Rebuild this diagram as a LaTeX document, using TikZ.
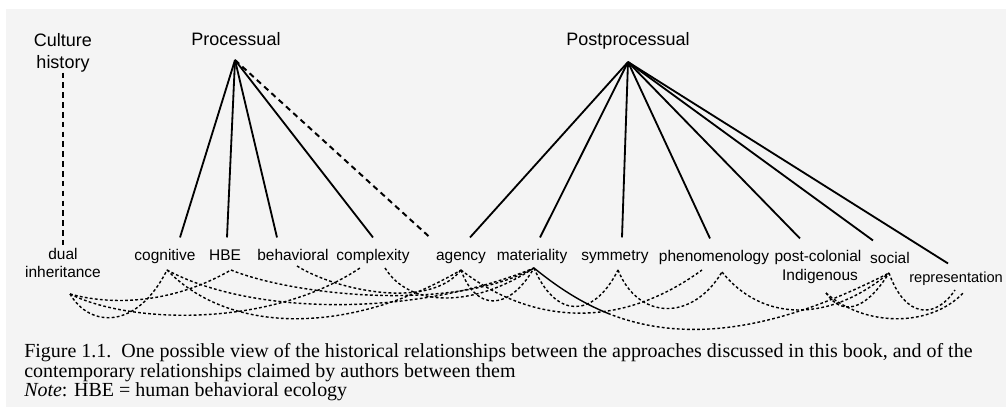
\documentclass[tikz,border=0pt]{standalone}
\usepackage{fontspec}
\setmainfont{Liberation Serif}
\setsansfont{Liberation Sans}
\usetikzlibrary{calc}
\definecolor{fond}{RGB}{244,244,244}
\tikzset{
  titre/.style={font=\sffamily\fontsize{12.8}{15.5}\selectfont, inner sep=0pt, align=center},
  etiq/.style={font=\sffamily\fontsize{11}{13}\selectfont, inner sep=0pt, anchor=base, text height=8pt, text depth=2.5pt},
  trait/.style={line width=1.3pt},
  tirets/.style={line width=1.4pt, dash pattern=on 4pt off 3pt},
  lien/.style={line width=1pt, dash pattern=on 2pt off 1.6pt},
  legende/.style={font=\fontsize{14.2}{16}\selectfont, anchor=base west, inner sep=0pt}
}

\begin{document}
\begin{tikzpicture}[x=0.025cm, y=-0.025cm]
  % Fond
  \fill[white] (0,0) rectangle (1006,407);
  \fill[fond] (6,9) rectangle (1006,407);
  \useasboundingbox (0,0) rectangle (1006,407);

  % Titres
  \node[titre] (culture) at (63,53) {Culture\\history};
  \node[titre, anchor=base] (proc) at (236,46) {Processual};
  \node[titre, anchor=base] (postproc) at (628,46) {Postprocessual};
  \coordinate (sommetA) at (235,60);
  \coordinate (sommetB) at (628,62);

  % Approches
  \node[font=\sffamily\fontsize{11}{13}\selectfont, inner sep=0pt, align=center, anchor=north] (dual) at (63,248) {dual\\inheritance};
  \node[etiq] (cog) at (165,260) {cognitive};
  \node[etiq] (hbe) at (225,260) {HBE};
  \node[etiq] (behav) at (293,260) {behavioral};
  \node[etiq] (compl) at (373,260) {complexity};
  \node[etiq] (agen) at (461,260) {agency};
  \node[etiq] (mat) at (532,260) {materiality};
  \node[etiq] (sym) at (615,260) {symmetry};
  \node[etiq] (phen) at (714,261) {phenomenology};
  \node[etiq] (postcol) at (818,261) {post-colonial};
  \node[etiq] (indi) at (820,280) {Indigenous};
  \node[etiq] (soc) at (890,263) {social};
  \node[etiq, font=\sffamily\fontsize{10.4}{12}\selectfont, anchor=base west] (repr) at (909,282) {representation};

  % Filiations
  \draw[tirets, shorten >=2pt] (culture.south) -- (culture.south |- dual.north);
  \foreach \cible/\dx in {cog/15, hbe/2, behav/-16, compl/0}
    \draw[trait] (sommetA) -- ($(\cible.north)+(\dx,-11)$);
  \draw[tirets] (sommetA) -- ($(agen.north)+(-31,-11)$);
  \foreach \cible/\dx in {agen/9, mat/8, sym/7, phen/-4, postcol/-18, soc/-17}
    \draw[trait] (sommetB) -- ($(\cible.north)+(\dx,-11)$);
  \draw[trait] (sommetB) -- ($(repr.north)+(-8,-7)$);

  % Relations contemporaines
  \coordinate (pDual) at (70,294);
  \coordinate (pCog) at (167,270);
  \coordinate (pHbe) at (231,270);
  \coordinate (pBehav) at (297,266);
  \coordinate (pComplG) at (360,268);
  \coordinate (pComplD) at (385,268);
  \coordinate (pAgen) at (461,270);
  \coordinate (pMat) at (534,268);
  \coordinate (pSym) at (618,270);
  \coordinate (pPhenG) at (702,270);
  \coordinate (pPhen) at (722,272);
  \coordinate (pIndi) at (826,293);
  \coordinate (pSoc) at (889,273);
  \coordinate (pReprG) at (955,290);
  \coordinate (pReprD) at (964,292);
  \coordinate (coupe) at (608,313.4);

  \draw[lien] (pDual) .. controls (90,328) and (137,330) .. (pCog);
  \draw[lien] (pDual) .. controls (110,305) and (170,305) .. (pHbe);
  \draw[lien] (pDual) .. controls (130,324) and (270,328) .. (pComplG);
  \draw[lien] (pCog) .. controls (230,335) and (350,335) .. (pAgen);
  \draw[lien] (pCog) .. controls (250,315) and (413,318) .. (pMat);
  \draw[lien] (pHbe) .. controls (292,295) and (453,313) .. (pMat);
  \draw[lien] (pBehav) .. controls (337,291) and (430,310) .. (pAgen);
  \draw[lien] (pComplD) .. controls (410,308) and (473,308) .. (pMat);
  \draw[lien] (pAgen) .. controls (475,310) and (508,313) .. (pMat);
  \draw[lien] (pAgen) .. controls (532,325) and (620,330) .. (pPhenG);
  \draw[lien] (pMat) .. controls (555,318) and (593,320) .. (pSym);
  \draw[trait, line width=1pt] (pMat) .. controls (558.5,288) and (582.4,303.1) .. (coupe);
  \draw[lien] (coupe) .. controls (684.8,344.1) and (776.5,330.8) .. (pSoc);
  \draw[lien] (pSym) .. controls (638,320) and (692,322) .. (pPhen);
  \draw[lien] (pPhen) .. controls (762,322) and (829,323) .. (pSoc);
  \draw[lien] (pIndi) .. controls (841,315) and (864,313) .. (pSoc);
  \draw[lien] (pIndi) .. controls (866,328) and (932,327) .. (pReprD);
  \draw[lien] (pSoc) .. controls (905,318) and (935,320) .. (pReprG);

  % Légende
  \node[legende] (leg1) at (24,357) {Figure 1.1.\enspace One possible view of the historical relationships between the approaches discussed in this book, and of the};
  \node[legende] (leg2) at (24,377) {contemporary relationships claimed by authors between them};
  \node[legende] (leg3) at (24,396) {\textit{Note}: HBE = human behavioral ecology};
\end{tikzpicture}
\end{document}
